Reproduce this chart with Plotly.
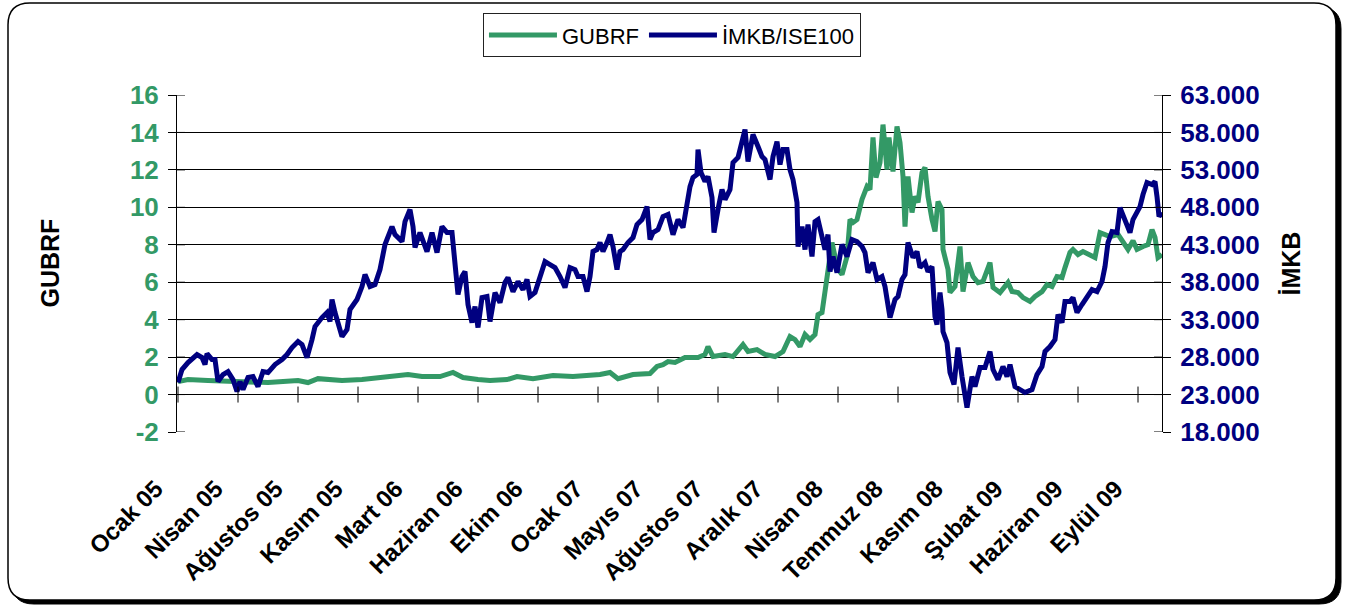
import plotly.graph_objects as go

# ---------------- data ----------------
month_labels = ["Ocak 05", "Nisan 05", "Ağustos 05", "Kasım 05", "Mart 06", "Haziran 06",
                "Ekim 06", "Ocak 07", "Mayıs 07", "Ağustos 07", "Aralık 07", "Nisan 08",
                "Temmuz 08", "Kasım 08", "Şubat 09", "Haziran 09", "Eylül 09"]
sessions_per_label = 60  # session index spacing between category labels

gubrf_day = [0, 10, 30, 64, 90, 120, 130, 140, 164, 184, 204, 230, 244, 262, 275, 285, 300, 312, 329,
             339, 355, 375, 395, 422, 432, 440, 455, 472, 479, 485, 490, 497, 507, 520, 527, 530, 535,
             547, 555, 565, 570, 579, 587, 597, 605, 612, 617, 622, 627, 632, 637, 640, 644, 647, 650,
             654, 657, 660, 664, 669, 672, 675, 679, 684, 689, 692, 695, 698, 702, 705, 709, 711, 715,
             719, 722, 725, 727, 730, 734, 737, 740, 744, 747, 750, 754, 757, 760, 764, 765, 770, 772,
             777, 782, 785, 790, 795, 800, 805, 812, 815, 822, 830, 834, 840, 845, 852, 857, 864, 869,
             874, 879, 884, 887, 892, 895, 900, 905, 912, 917, 922, 927, 932, 940, 945, 950, 955, 959,
             965, 970, 974, 977, 980, 984]
gubrf_val = [0.69, 0.80, 0.75, 0.69, 0.64, 0.75, 0.64, 0.85, 0.75, 0.80, 0.91, 1.07, 0.96, 0.96, 1.18,
             0.91, 0.80, 0.75, 0.80, 0.96, 0.85, 1.02, 0.96, 1.07, 1.18, 0.85, 1.07, 1.12, 1.50, 1.60,
             1.76, 1.71, 1.98, 1.98, 2.14, 2.56, 2.03, 2.14, 2.03, 2.67, 2.30, 2.40, 2.14, 2.03, 2.30,
             3.10, 2.94, 2.56, 3.21, 2.94, 3.21, 4.27, 4.38, 5.50, 6.30, 8.12, 7.37, 6.68, 6.41, 7.37,
             9.35, 9.19, 9.35, 10.42, 11.11, 10.95, 13.73, 11.59, 12.39, 14.42, 12.02, 13.73, 11.91,
             14.32, 13.46, 11.65, 8.97, 11.65, 9.72, 10.58, 10.26, 11.86, 12.13, 10.58, 9.35, 8.71,
             10.31, 9.88, 7.75, 6.68, 5.45, 5.77, 7.91, 5.50, 7.05, 6.30, 5.98, 6.04, 7.05, 5.72, 5.45,
             5.98, 5.50, 5.45, 5.18, 4.97, 5.24, 5.50, 5.88, 5.77, 6.30, 6.25, 6.78, 7.59, 7.75, 7.48,
             7.64, 7.48, 7.32, 8.65, 8.55, 8.44, 8.55, 8.17, 7.75, 8.22, 7.75, 7.91, 8.01, 8.81, 8.39,
             7.32, 7.48]

imkb_day = [0, 4, 10, 19, 24, 27, 29, 34, 37, 40, 45, 50, 55, 59, 62, 65, 70, 75, 80, 85, 90, 97, 104,
            109, 114, 120, 124, 129, 134, 137, 144, 149, 152, 154, 157, 160, 164, 169, 172, 179, 184,
            187, 192, 197, 202, 207, 210, 214, 217, 224, 227, 232, 235, 237, 242, 249, 254, 259, 264,
            269, 274, 277, 280, 284, 287, 290, 294, 297, 300, 304, 309, 312, 317, 322, 327, 330, 335,
            340, 345, 349, 352, 357, 362, 367, 372, 377, 382, 387, 392, 397, 400, 405, 409, 412, 415,
            419, 422, 425, 429, 432, 435, 439, 442, 445, 450, 455, 459, 464, 469, 472, 475, 480, 485,
            490, 495, 500, 505, 509, 512, 515, 519, 520, 523, 527, 530, 534, 536, 540, 544, 547, 552,
            555, 560, 564, 567, 570, 575, 580, 584, 587, 592, 595, 599, 602, 605, 609, 612, 615, 619,
            620, 624, 627, 630, 634, 637, 640, 644, 647, 650, 652, 655, 659, 664, 669, 674, 679, 684,
            687, 690, 695, 699, 704, 707, 710, 712, 717, 720, 724, 727, 730, 735, 739, 742, 747, 750,
            754, 757, 759, 762, 764, 765, 769, 772, 776, 780, 784, 787, 789, 794, 797, 802, 807, 812,
            815, 820, 825, 829, 832, 837, 842, 847, 854, 859, 864, 867, 872, 877, 880, 884, 887, 892,
            895, 899, 904, 907, 914, 919, 924, 927, 930, 934, 939, 942, 947, 952, 955, 960, 962, 965,
            969, 974, 977, 979, 981, 984]
imkb_val = [24600, 26340, 27270, 28340, 27940, 27010, 28470, 27670, 27670, 24740, 25670, 26070, 25000,
            23400, 24740, 23670, 25270, 25400, 24070, 26070, 25940, 27010, 27670, 28340, 29280, 30080,
            29680, 27940, 30340, 32080, 33280, 33950, 32750, 35690, 33950, 32610, 30740, 31680, 34350,
            35690, 37420, 39020, 37420, 37690, 39690, 43030, 44100, 45430, 44360, 43430, 46100, 47700,
            45430, 42630, 44630, 42100, 44630, 41960, 45430, 44630, 44630, 41030, 36350, 38760, 39420,
            35020, 32610, 34750, 31950, 35950, 36090, 32750, 36620, 35290, 37960, 38620, 36750, 38090,
            37020, 38360, 36090, 36620, 38620, 40760, 40360, 39960, 38760, 37290, 39960, 39690, 38760,
            38760, 36750, 38760, 42100, 42360, 43300, 42100, 43300, 44360, 42760, 39690, 42100, 42360,
            43300, 43960, 45700, 46370, 48100, 43700, 44630, 45030, 46770, 47040, 44360, 46370, 45300,
            48640, 50770, 51980, 52380, 55720, 52640, 51440, 52110, 49310, 44630, 47700, 50370, 49040,
            50370, 53980, 54650, 56780, 58390, 54110, 57720, 56120, 54780, 54380, 51710, 54780, 56780,
            53710, 55720, 55720, 53040, 51710, 48640, 42760, 45430, 42360, 45700, 41430, 46100, 46370,
            44100, 42360, 44360, 39420, 41430, 39290, 43030, 41430, 43700, 43430, 42760, 41960, 39290,
            40630, 38360, 38760, 37420, 35290, 33280, 35690, 36090, 38360, 39020, 43300, 41290, 42100,
            39960, 40630, 39420, 40090, 33420, 32350, 36620, 34350, 31410, 29940, 25940, 24340, 29280,
            25400, 23270, 21260, 25400, 24070, 26610, 26610, 28740, 26340, 25000, 26740, 25400, 27010,
            24070, 23670, 23270, 23670, 25670, 26740, 28740, 29410, 30340, 33680, 32610, 35420, 35420,
            35950, 33950, 35020, 35690, 37020, 36750, 38090, 40090, 43300, 44770, 44630, 47970, 46370,
            44630, 46370, 47700, 48100, 49710, 51310, 51040, 51440, 49440, 46770, 47300]

left_ticks = [-2, 0, 2, 4, 6, 8, 10, 12, 14, 16]
left_tick_text = ["-2", "0", "2", "4", "6", "8", "10", "12", "14", "16"]
grid_ticks = [0, 2, 4, 6, 8, 10, 12, 14]
right_ticks = [18000, 23000, 28000, 33000, 38000, 43000, 48000, 53000, 58000, 63000]

GREEN = "#339966"
NAVY = "#000080"
FONT = "Liberation Sans, Arial, sans-serif"

# plot-area pixel geometry (for paper conversions of decorations)
W, H = 1346, 605
ML, MR, MT, MB = 177, 184, 95, 173
PW, PH = W - ML - MR, H - MT - MB


def px2paper(x, y):
    return (x - ML) / PW, (H - MB - y) / PH


def rounded_rect_path(x0, y0, x1, y1, r):
    ax, ay = px2paper(x0, y0)
    bx, by = px2paper(x1, y1)
    rx, ry = r / PW, r / PH
    return (f"M {ax+rx},{ay} L {bx-rx},{ay} Q {bx},{ay} {bx},{ay-ry} "
            f"L {bx},{by+ry} Q {bx},{by} {bx-rx},{by} L {ax+rx},{by} Q {ax},{by} {ax},{by+ry} "
            f"L {ax},{ay-ry} Q {ax},{ay} {ax+rx},{ay} Z")


fig = go.Figure()
fig.add_trace(go.Scatter(x=gubrf_day, y=gubrf_val, name="GUBRF", mode="lines",
                         line=dict(color=GREEN, width=5), yaxis="y"))
fig.add_trace(go.Scatter(x=imkb_day, y=imkb_val, name="İMKB/ISE100", mode="lines",
                         line=dict(color=NAVY, width=5), yaxis="y2"))

shapes = []
# outer frame with shadow
shapes.append(dict(type="path", xref="paper", yref="paper", layer="below",
                   path=rounded_rect_path(12, 7, 1341, 604, 22),
                   fillcolor="black", line=dict(color="black", width=1)))
shapes.append(dict(type="path", xref="paper", yref="paper", layer="below",
                   path=rounded_rect_path(8, 3, 1336, 600, 22),
                   fillcolor="white", line=dict(color="black", width=1.5)))
# inner halves of the crossing tick marks
for v in left_ticks:
    shapes.append(dict(type="line", xref="paper", yref="y", xsizemode="pixel", xanchor=0,
                       x0=0, x1=8, y0=v, y1=v, line=dict(color="black", width=1)))
for v in right_ticks:
    shapes.append(dict(type="line", xref="paper", yref="y2", xsizemode="pixel", xanchor=1,
                       x0=-8, x1=0, y0=v, y1=v, line=dict(color="black", width=1)))
for i in range(len(month_labels)):
    t = i * sessions_per_label
    shapes.append(dict(type="line", xref="x", yref="y", ysizemode="pixel", yanchor=0,
                       x0=t, x1=t, y0=-8, y1=8, line=dict(color="black", width=1)))

fig.update_layout(
    width=W, height=H, autosize=False,
    margin=dict(l=ML, r=MR, t=MT, b=MB, pad=0),
    paper_bgcolor="white", plot_bgcolor="rgba(0,0,0,0)",
    separators=",.",
    font=dict(family=FONT, color="black"),
    shapes=shapes,
    showlegend=True,
    legend=dict(orientation="h", x=0.5025, xanchor="center", y=1.243, yanchor="top",
                bordercolor="#222", borderwidth=1, bgcolor="white", itemwidth=68,
                font=dict(size=22, family=FONT, color="black"), traceorder="normal"),
    xaxis=dict(range=[-1, 984], tickvals=[i * sessions_per_label for i in range(len(month_labels))],
               ticktext=month_labels, tickangle=-45, ticks="", showline=False, showgrid=False,
               zeroline=False, automargin=False, ticklabelstandoff=37, ticklabelshift=-22,
               tickfont=dict(size=24, family=FONT, color="black", weight="bold")),
    yaxis=dict(range=[-2, 16], tickvals=left_ticks, ticktext=left_tick_text, ticks="outside",
               ticklen=8, tickcolor="black",
               tickwidth=1, showline=True, linecolor="black", linewidth=1, showgrid=False,
               zeroline=False, automargin=False, ticklabelstandoff=4,
               tickfont=dict(size=26, family=FONT, color=GREEN, weight="bold")),
    yaxis2=dict(range=[18000, 63000], tickvals=right_ticks, tickformat=",d", overlaying="y",
                side="right", ticks="outside", ticklen=8, tickcolor="black", tickwidth=1,
                showline=True, linecolor="black", linewidth=1, showgrid=False, zeroline=False,
                automargin=False, ticklabelstandoff=4,
                tickfont=dict(size=26, family=FONT, color=NAVY, weight="bold")),
    yaxis3=dict(range=[-2, 16], tickvals=grid_ticks, overlaying="y", showticklabels=False,
                ticks="", showgrid=True, gridcolor="black", gridwidth=1, zeroline=False,
                showline=False, automargin=False),
    annotations=[
        dict(text="GUBRF", textangle=-90, xref="paper", yref="paper",
             x=px2paper(49, 0)[0], y=0.5, xanchor="center", yanchor="middle", showarrow=False,
             font=dict(size=25, family=FONT, color="black", weight="bold")),
        dict(text="İMKB", textangle=-90, xref="paper", yref="paper",
             x=px2paper(1290, 0)[0], y=0.5, xanchor="center", yanchor="middle", showarrow=False,
             font=dict(size=25, family=FONT, color="black", weight="bold")),
    ],
)
# invisible trace so the grid-only axis is rendered
fig.add_trace(go.Scatter(x=[None], y=[None], yaxis="y3", showlegend=False, hoverinfo="skip"))

fig.write_html("out.html", config={"displayModeBar": False},
               post_script="document.body.style.margin='0';")
